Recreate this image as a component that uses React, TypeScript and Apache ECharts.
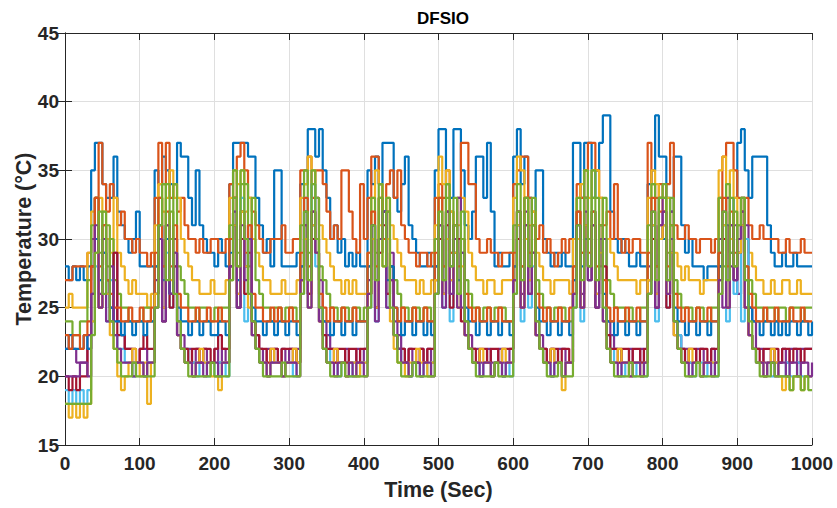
import React, { useEffect, useRef } from "react";
import * as echarts from "echarts";

// time axis: one reading every 5 s, 0..1000
const TIMES: number[] = Array.from({ length: 201 }, (_, i) => i * 5);

const X_TICKS = [0, 100, 200, 300, 400, 500, 600, 700, 800, 900, 1000];
const Y_TICKS = [15, 20, 25, 30, 35, 40, 45];

const blueA = [
  28,27,28,27, 28,27,28,35, 37,37,34,33, 33,36,32,31, 30,29,30,32,
  28,28,28,28, 35,34,36,35, 34,34,37,36, 36,33,31,35, 31,30,29,29,
  28,30,29,28, 34,37,37,37, 37,36,36,33, 31,29,30,28, 35,35,28,28,
  28,28,29,34, 34,38,38,36, 38,35,33,30, 31,29,30,28, 29,28,29,28,
  28,35,34,36, 34,37,37,37, 33,32,34,36, 31,30,29,28, 28,29,28,35,
  38,38,34,33, 38,38,35,31, 30,32,36,36, 33,37,32,28, 29,28,28,29,
  36,38,34,36, 33,31,35,35, 30,29,28,29, 28,29,28,28, 37,37,33,37,
  37,33,35,37, 39,39,32,30, 29,30,29,28, 28,29,28,28, 34,35,39,36,
  36,33,32,36, 36,31,29,30, 28,28,28,27, 28,28,28,29, 30,31,29,33,
  37,38,35,33, 36,36,36,36, 31,29,28,28, 29,28,28,29, 28,28,28,28,
  28,
];
const orangeA = [
  27,27,28,28, 28,28,29,30, 33,37,34,32, 34,33,31,32, 30,30,29,30,
  29,29,28,29, 33,37,34,37, 33,34,32,33, 31,30,30,29, 30,29,29,30,
  30,29,29,30, 34,33,36,37, 35,33,32,31, 30,29,29,30, 30,30,31,29,
  29,30,30,35, 35,36,33,35, 35,34,32,30, 31,30,35,35, 32,30,29,34,
  30,33,36,36, 34,32,34,35, 33,35,31,30, 29,29,28,29, 29,28,29,33,
  34,33,35,32, 31,33,37,37, 34,34,30,29, 29,30,29,29, 28,29,29,29,
  34,35,36,36, 33,32,30,31, 29,30,29,28, 29,30,29,30, 30,34,33,35,
  37,37,35,33, 31,32,30,34, 30,29,30,29, 30,30,29,29, 37,34,33,34,
  33,34,37,31, 30,30,31,30, 30,29,30,30, 30,29,30,33, 36,37,37,35,
  33,32,33,31, 30,30,31,30, 30,30,30,29, 29,30,29,29, 29,30,29,29,
  29,
];
const yellowA = [
  25,26,25,25, 25,25,29,32, 33,33,32,30, 29,33,29,28, 27,26,27,26,
  26,26,25,26, 31,34,32,33, 35,33,33,30, 29,28,27,27, 26,26,26,27,
  26,26,26,27, 33,35,34,35, 32,33,30,29, 28,27,27,26, 26,26,27,26,
  26,26,27,33, 34,36,35,33, 31,30,29,28, 27,27,26,27, 26,27,26,26,
  26,29,33,35, 34,32,33,31, 30,29,28,27, 27,27,26,27, 26,26,27,31,
  36,34,35,32, 30,31,33,32, 29,28,27,27, 26,27,27,26, 26,27,27,27,
  33,36,35,33, 31,32,29,28, 27,27,26,27, 27,27,27,26, 30,33,34,35,
  33,35,35,33, 30,30,29,28, 27,27,27,27, 27,26,27,27, 33,35,34,33,
  32,33,31,29, 28,27,28,27, 27,27,26,27, 27,27,27,35, 36,33,35,33,
  31,33,30,29, 28,27,27,26, 26,27,26,26, 27,27,26,26, 27,26,26,26,
  26,
];
const purpleA = [
  22,22,22,21, 21,21,23,30, 33,26,31,27, 25,29,24,23, 22,22,21,21,
  22,22,21,21, 27,31,25,31, 26,30,24,23, 22,22,21,22, 21,22,21,21,
  22,21,22,21, 30,33,26,32, 28,31,24,23, 22,21,22,21, 22,21,22,21,
  22,21,22,28, 32,26,31,33, 27,24,23,22, 22,21,21,22, 21,21,22,21,
  22,27,31,25, 30,32,26,29, 24,23,22,21, 22,21,21,22, 21,22,21,28,
  31,26,32,27, 31,33,25,24, 23,22,22,21, 21,22,21,21, 22,21,21,22,
  28,31,26,32, 27,31,24,23, 22,21,22,21, 22,22,21,21, 27,32,26,33,
  28,32,26,31, 30,24,23,22, 22,21,21,22, 21,21,22,21, 28,31,26,33,
  31,27,32,24, 23,22,22,21, 21,22,22,21, 21,22,21,30, 25,33,28,31,
  26,33,31,25, 24,22,22,21, 21,22,21,21, 22,21,22,22, 21,22,22,22,
  22,
];
const greenA = [
  24,24,23,23, 24,24,27,31, 33,29,32,28, 30,27,26,25, 25,24,24,24,
  24,25,25,24, 28,33,28,34, 30,34,28,27, 26,25,25,24, 25,25,24,24,
  25,24,25,25, 31,35,29,35, 34,28,33,27, 26,25,25,24, 25,25,24,25,
  25,25,24,31, 35,29,35,33, 28,27,26,25, 25,24,25,25, 24,25,25,24,
  25,28,33,29, 34,30,33,28, 27,26,25,25, 24,25,25,24, 25,25,24,30,
  33,28,34,29, 33,27,32,27, 26,25,25,24, 25,25,24,25, 25,25,24,24,
  31,34,28,33, 29,33,27,26, 25,25,24,25, 25,25,24,24, 28,33,29,35,
  30,35,33,28, 33,27,26,25, 25,25,24,25, 24,24,25,25, 31,34,28,33,
  34,29,33,27, 26,25,25,25, 24,25,25,24, 24,25,25,33, 28,34,29,32,
  30,33,28,27, 26,25,25,24, 25,25,24,25, 25,24,25,25, 25,24,25,25,
  25,
];
const cyanA = [
  19,18,19,18, 19,18,19,24, 28,25,30,24, 27,23,22,22, 21,21,20,21,
  21,20,21,21, 26,31,24,29, 25,28,23,22, 22,21,21,20, 21,21,20,21,
  20,21,21,20, 27,32,25,33, 24,29,23,22, 21,21,20,21, 21,21,20,21,
  21,20,21,26, 33,25,34,28, 24,23,22,21, 21,20,21,21, 20,21,20,21,
  21,25,31,24, 29,32,25,28, 23,22,21,21, 20,21,21,20, 21,20,21,26,
  30,25,31,24, 29,26,30,23, 22,21,21,20, 21,21,20,21, 21,20,21,20,
  26,31,24,30, 25,28,23,22, 21,21,20,21, 21,20,21,21, 25,30,24,31,
  27,32,25,29, 24,23,22,21, 21,20,21,21, 20,21,21,20, 26,31,24,30,
  31,25,29,24, 23,22,21,21, 20,21,21,20, 21,21,20,27, 31,24,30,26,
  29,24,30,23, 22,21,21,20, 21,20,21,20, 20,21,20,20, 21,20,20,20,
  20,
];
const redA = [
  20,19,20,19, 20,20,22,28, 30,25,29,27, 24,29,23,23, 22,22,22,21,
  22,23,22,22, 26,30,24,30, 25,28,23,22, 22,21,22,22, 21,22,22,21,
  22,23,22,22, 28,31,25,30, 26,29,24,23, 22,22,21,22, 22,21,22,22,
  22,22,21,27, 31,26,30,29, 24,23,22,22, 21,22,22,21, 22,22,21,22,
  22,26,30,25, 29,31,26,28, 23,22,22,21, 22,22,21,22, 21,22,22,27,
  30,26,31,25, 29,30,24,23, 22,22,21,22, 22,21,22,22, 21,22,22,22,
  27,30,25,31, 26,29,23,22, 22,21,22,22, 21,22,22,21, 26,30,25,31,
  27,31,25,30, 28,23,22,22, 21,22,22,21, 22,22,21,22, 27,30,25,31,
  30,25,29,23, 22,22,21,22, 22,21,22,22, 21,22,22,28, 30,25,31,27,
  29,31,25,23, 22,22,21,22, 22,21,22,21, 22,22,21,22, 22,21,22,22,
  22,
];
const blueB = [
  22,23,22,22, 22,23,22,26, 30,27,29,26, 25,24,24,23, 24,24,23,24,
  24,23,24,24, 28,31,27,30, 26,29,25,24, 24,23,24,24, 23,24,24,23,
  23,24,24,23, 29,31,27,32, 28,30,25,24, 24,23,24,24, 23,24,24,23,
  24,24,23,28, 32,27,31,29, 25,24,24,23, 24,24,23,24, 24,23,24,24,
  24,28,31,27, 30,32,27,28, 25,24,23,24, 24,23,24,24, 23,24,23,28,
  31,27,30,28, 31,27,29,25, 24,24,23,24, 24,23,24,24, 23,24,24,23,
  28,31,27,30, 28,29,25,24, 24,23,24,24, 23,24,24,23, 27,31,28,30,
  28,31,27,30, 26,24,24,23, 24,24,23,24, 24,23,24,24, 27,31,28,30,
  30,27,29,25, 24,24,23,24, 24,23,24,24, 23,24,24,28, 31,27,30,28,
  29,31,27,25, 24,24,23,24, 24,23,24,23, 24,23,24,24, 23,24,24,23,
  24,
];
const orangeB = [
  23,22,23,23, 22,23,24,28, 33,28,31,27, 26,25,25,24, 24,25,24,24,
  25,24,24,25, 29,33,28,32, 28,31,26,25, 25,24,24,25, 24,24,25,24,
  24,25,24,24, 30,33,28,32, 29,31,26,25, 25,24,24,25, 24,25,24,24,
  25,24,24,29, 33,28,32,30, 26,25,24,25, 24,24,25,24, 24,25,24,24,
  24,29,32,28, 33,30,32,27, 25,24,25,24, 24,25,24,24, 25,24,24,29,
  33,28,32,29, 31,28,30,26, 25,24,25,24, 24,25,24,24, 25,24,24,24,
  29,32,28,33, 29,31,26,25, 24,25,24,24, 25,24,24,25, 28,32,29,33,
  29,32,28,31, 27,25,24,25, 24,24,25,24, 24,25,24,24, 29,33,28,32,
  32,28,31,26, 25,24,25,24, 24,25,24,24, 25,24,24,29, 33,28,32,29,
  30,32,28,26, 25,24,24,25, 24,24,25,24, 24,24,25,24, 24,25,24,24,
  24,
];
const yellowB = [
  18,17,18,17, 18,17,18,24, 29,25,30,26, 23,22,20,19, 20,21,22,21,
  20,21,18,21, 26,30,25,31, 27,29,23,22, 21,21,20,21, 22,21,21,20,
  20,19,21,21, 27,31,26,32, 28,25,23,22, 21,21,20,22, 21,21,20,21,
  21,22,21,27, 30,25,31,29, 24,22,21,21, 22,21,21,20, 21,21,20,21,
  21,26,30,25, 31,28,30,24, 22,21,21,20, 21,21,22,21, 21,20,21,27,
  31,26,30,27, 29,25,28,23, 22,21,21,22, 21,21,20,21, 21,22,21,21,
  27,31,25,30, 27,29,23,22, 21,21,22,21, 21,19,21,21, 26,30,25,31,
  28,31,26,29, 24,22,21,21, 22,21,21,20, 21,21,20,21, 27,31,26,30,
  31,26,29,23, 22,21,21,22, 21,21,20,21, 21,21,21,27, 31,25,30,28,
  29,31,25,23, 22,21,21,20, 21,22,21,20, 19,20,19,20, 20,19,20,20,
  20,
];
const purpleB = [
  20,20,20,20, 21,21,20,26, 31,25,30,24, 28,23,22,21, 21,21,20,21,
  21,20,21,21, 25,30,24,31, 26,29,23,22, 21,21,20,21, 21,20,21,21,
  21,20,21,21, 28,32,25,31, 27,30,23,22, 21,21,20,21, 21,21,20,21,
  21,21,20,27, 31,25,32,29, 24,22,21,21, 20,21,21,20, 21,20,21,21,
  20,26,31,24, 30,32,25,27, 23,22,21,21, 20,21,21,20, 21,21,20,26,
  31,25,32,26, 30,25,29,23, 22,21,21,20, 21,21,20,21, 21,20,21,21,
  27,32,25,31, 26,29,23,22, 21,21,20,21, 21,20,21,21, 26,31,25,32,
  27,31,25,30, 24,22,21,21, 20,21,21,20, 21,21,20,21, 26,32,25,31,
  32,26,30,24, 22,21,21,20, 21,21,20,21, 21,20,21,27, 32,25,31,27,
  30,32,25,23, 22,21,21,20, 21,21,20,21, 21,20,21,21, 20,21,21,20,
  21,
];
const greenB = [
  18,18,18,18, 18,18,18,23, 29,32,26,31, 24,22,21,20, 20,20,21,20,
  20,20,20,20, 25,31,34,27, 32,26,24,22, 21,20,20,20, 20,20,20,21,
  20,20,20,20, 27,33,28,34, 30,26,24,22, 21,20,20,20, 20,20,21,20,
  20,20,20,26, 32,27,34,30, 25,22,21,20, 20,20,21,20, 20,20,20,20,
  20,25,31,27, 33,28,32,25, 23,21,20,20, 20,21,20,20, 20,20,20,26,
  32,27,33,28, 31,26,30,24, 22,21,20,20, 20,20,20,21, 20,20,20,20,
  26,32,27,33, 28,31,24,22, 21,20,20,20, 21,20,20,20, 25,31,27,33,
  28,33,27,31, 25,22,21,20, 20,20,20,21, 20,20,20,20, 26,32,27,33,
  33,27,31,24, 22,21,20,20, 20,21,20,20, 20,20,20,26, 32,27,33,28,
  31,33,27,24, 22,21,20,20, 20,21,20,20, 20,20,19,20, 20,19,20,19,
  19,
];

const SERIES_VALUES = [
  blueA, orangeA, yellowA, purpleA, greenA, cyanA, redA,
  blueB, orangeB, yellowB, purpleB, greenB,
];
const SERIES_NAMES = [
  "Sensor 1", "Sensor 2", "Sensor 3", "Sensor 4", "Sensor 5", "Sensor 6",
  "Sensor 7", "Sensor 8", "Sensor 9", "Sensor 10", "Sensor 11", "Sensor 12",
];
const COLORS = ["#0072BD", "#D95319", "#EDB120", "#7E2F8E", "#77AC30", "#4DBEEE", "#A2142F"];

const FONT = "'Liberation Sans', Arial, Helvetica, sans-serif";
const TXT = "#262626";

export default function App() {
  const ref = useRef<HTMLDivElement>(null);
  useEffect(() => {
    if (!ref.current) return;
    const chart = echarts.init(ref.current, undefined, { renderer: "svg" });
    const axisLineStyle = { color: TXT, width: 1 };
    const labelStyle = { fontFamily: FONT, fontWeight: "bold" as const, fontSize: 19, color: TXT };
    const nameStyle = { fontFamily: FONT, fontWeight: "bold" as const, fontSize: 21.5, color: TXT };
    const series = SERIES_VALUES.map((vals, k) => ({
      name: SERIES_NAMES[k],
      type: "line",
      step: "end",
      showSymbol: false,
      symbol: "none",
      data: vals.map((v, i) => [TIMES[i], v]),
      lineStyle: { color: COLORS[k % 7], width: 2.2 },
      itemStyle: { color: COLORS[k % 7] },
      emphasis: { disabled: true },
    }));
    chart.setOption({
      animation: false,
      backgroundColor: "#ffffff",
      title: {
        text: "DFSIO",
        left: 438,
        top: 5,
        textAlign: "center",
        textStyle: { fontFamily: FONT, fontWeight: "bold", fontSize: 17, color: "#000" },
      },
      grid: {
        left: 65,
        right: 25,
        top: 33,
        bottom: 63,
        containLabel: false,
        outerBoundsMode: "none",
      },
      xAxis: [
        {
          type: "value",
          min: X_TICKS[0],
          max: X_TICKS[X_TICKS.length - 1],
          interval: 100,
          position: "bottom",
          name: "Time (Sec)",
          nameLocation: "middle",
          nameGap: 34,
          nameMoveOverlap: false,
          nameTextStyle: nameStyle,
          axisLine: { show: true, lineStyle: axisLineStyle },
          axisTick: { show: true, inside: true, length: 7, lineStyle: axisLineStyle },
          axisLabel: { ...labelStyle, margin: 9, formatter: (v: number) => String(v) },
          splitLine: { show: true, lineStyle: { color: "#dfdfdf", width: 1 } },
        },
        {
          type: "value",
          min: X_TICKS[0],
          max: X_TICKS[X_TICKS.length - 1],
          interval: 100,
          position: "top",
          axisLine: { show: true, lineStyle: axisLineStyle },
          axisTick: { show: true, inside: true, length: 7, lineStyle: axisLineStyle },
          axisLabel: { show: false },
          splitLine: { show: false },
        },
      ],
      yAxis: [
        {
          type: "value",
          min: Y_TICKS[0],
          max: Y_TICKS[Y_TICKS.length - 1],
          interval: 5,
          position: "left",
          name: "Temperature (°C)",
          nameLocation: "middle",
          nameGap: 30,
          nameMoveOverlap: false,
          nameTextStyle: nameStyle,
          axisLine: { show: true, lineStyle: axisLineStyle },
          axisTick: { show: true, inside: true, length: 7, lineStyle: axisLineStyle },
          axisLabel: { ...labelStyle, margin: 6, formatter: (v: number) => String(v) },
          splitLine: { show: true, lineStyle: { color: "#dfdfdf", width: 1 } },
        },
        {
          type: "value",
          min: Y_TICKS[0],
          max: Y_TICKS[Y_TICKS.length - 1],
          interval: 5,
          position: "right",
          axisLine: { show: true, lineStyle: axisLineStyle },
          axisTick: { show: true, inside: true, length: 7, lineStyle: axisLineStyle },
          axisLabel: { show: false },
          splitLine: { show: false },
        },
      ],
      series,
    });
    return () => chart.dispose();
  }, []);
  return (
    <div
      ref={ref}
      style={{ position: "fixed", left: 0, top: 0, width: 837, height: 508, background: "#fff" }}
    />
  );
}
